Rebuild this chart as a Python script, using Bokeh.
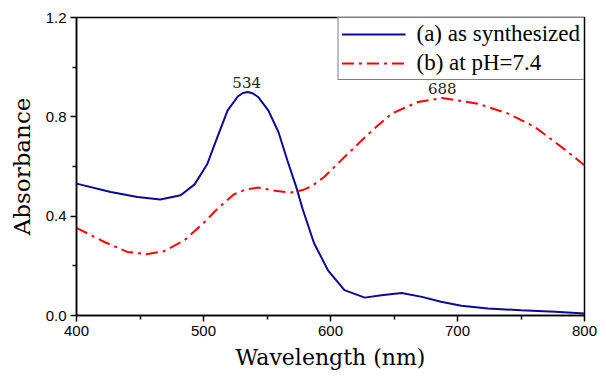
from bokeh.plotting import figure
from bokeh.models import Range1d, FixedTicker, Legend, LegendItem, ColumnDataSource
from bokeh.core.properties import value
from bokeh.embed import file_html
from bokeh.resources import INLINE

# Data
wl_a = [400, 427, 448, 466, 482, 493, 503, 511, 519, 527, 531, 535, 539, 543, 551, 559, 566, 573,
        578, 587, 598, 611, 627, 640, 656, 672, 687, 703, 724, 750, 777, 800]
abs_a = [0.531, 0.497, 0.477, 0.467, 0.484, 0.528, 0.610, 0.719, 0.826, 0.882, 0.896, 0.900,
         0.894, 0.880, 0.826, 0.739, 0.625, 0.518, 0.430, 0.292, 0.182, 0.102, 0.072, 0.082,
         0.091, 0.075, 0.055, 0.039, 0.028, 0.021, 0.015, 0.008]

wl_b = [400, 422, 440, 455, 469, 485, 500, 510, 524, 533, 543, 558, 569, 578, 585, 595, 611,
        630, 648, 669, 688, 716, 740, 761, 782, 800]
abs_b = [0.353, 0.296, 0.256, 0.247, 0.259, 0.303, 0.372, 0.425, 0.488, 0.507, 0.515, 0.501,
         0.495, 0.505, 0.520, 0.558, 0.638, 0.732, 0.813, 0.860, 0.876, 0.853, 0.813, 0.759,
         0.678, 0.605]

series_names = ["(a) as synthesized", "(b) at pH=7.4"]
peak_x = [534, 688]
peak_y = [0.900, 0.876]
peak_labels = ["534", "688"]

x_ticks = [400, 500, 600, 700, 800]
x_minor = [450, 550, 650, 750]
y_ticks = [0.0, 0.4, 0.8, 1.2]
y_minor = [0.2, 0.6, 1.0]

p = figure(width=598, height=377, output_backend="svg", toolbar_location=None,
           x_range=Range1d(400, 800), y_range=Range1d(0, 1.2),
           min_border_left=76, min_border_right=14, min_border_top=17, min_border_bottom=62)
p.background_fill_color = "white"
p.border_fill_color = "white"
p.outline_line_color = "black"
p.outline_line_width = 1.5
p.grid.visible = False

la = p.line(wl_a, abs_a, line_color="#0a0a96", line_width=2)
lb = p.line(wl_b, abs_b, line_color="#ff0000", line_width=2, line_dash="12 5 3 5")

src = ColumnDataSource(dict(x=peak_x, y=peak_y, t=peak_labels))
p.text(x="x", y="y", text="t", source=src, text_align="center", text_baseline="bottom",
       y_offset=-4, text_font=value("DejaVu Serif"), text_font_size="15px", text_color="#222222")

for ax in (p.xaxis[0], p.yaxis[0]):
    ax.axis_line_width = 1.5
    ax.axis_line_color = "black"
    ax.major_tick_line_width = 1.5
    ax.minor_tick_line_width = 1.5
    ax.major_tick_in = 0
    ax.major_tick_out = 6
    ax.minor_tick_in = 0
    ax.minor_tick_out = 4
    ax.major_label_text_font = "Liberation Sans"
    ax.major_label_text_font_size = "15px"
    ax.major_label_text_color = "black"
    ax.axis_label_text_font = "DejaVu Serif"
    ax.axis_label_text_font_style = "normal"
    ax.axis_label_text_color = "black"

p.xaxis.axis_label_text_font_size = "22px"
p.yaxis.axis_label_text_font_size = "23px"
p.xaxis.ticker = FixedTicker(ticks=x_ticks, minor_ticks=x_minor)
p.yaxis.ticker = FixedTicker(ticks=y_ticks, minor_ticks=y_minor)
p.xaxis.major_label_overrides = {400: "400", 500: "500", 600: "600", 700: "700", 800: "800"}
p.yaxis.major_label_overrides = {0.0: "0.0", 0.4: "0.4", 0.8: "0.8", 1.2: "1.2"}
p.xaxis.axis_label = "Wavelength (nm)"
p.yaxis.axis_label = "Absorbance"
p.xaxis.major_label_standoff = 4
p.yaxis.major_label_standoff = 4
p.xaxis.axis_label_standoff = 6
p.yaxis.axis_label_standoff = 8

legend = Legend(items=[LegendItem(label=series_names[0], renderers=[la]),
                       LegendItem(label=series_names[1], renderers=[lb])],
                location="top_right")
legend.margin = 0
legend.padding = 3
legend.spacing = 3
legend.glyph_width = 64
legend.glyph_height = 26
legend.label_height = 26
legend.label_standoff = 11
legend.label_text_font = "Liberation Serif"
legend.label_text_font_size = "23px"
legend.label_text_color = "black"
legend.border_line_color = "black"
legend.border_line_width = 1
legend.background_fill_alpha = 1
p.add_layout(legend)

open("out.html", "w").write(file_html(p, INLINE))
